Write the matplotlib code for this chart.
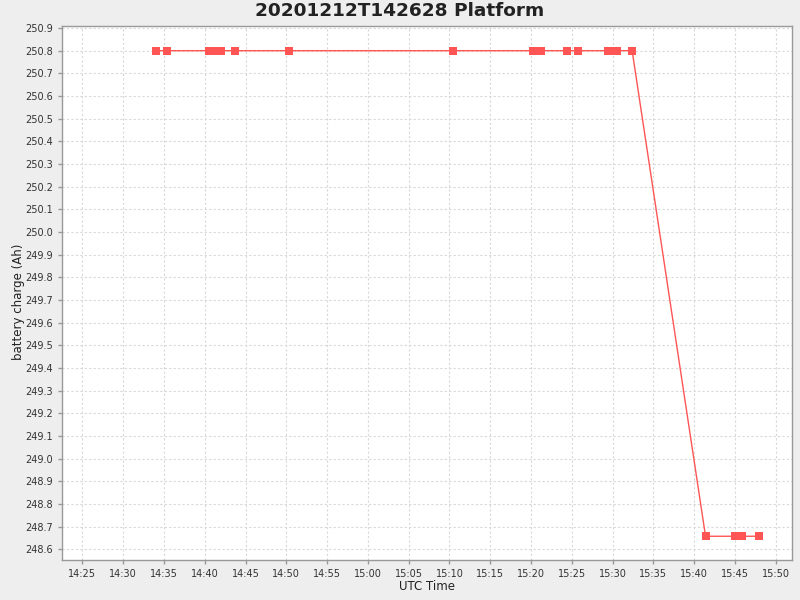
"""Battery charge vs UTC time for the platform run."""
from datetime import datetime

import matplotlib

matplotlib.use("Agg")
import matplotlib.dates as mdates
import matplotlib.pyplot as plt
from matplotlib.ticker import MultipleLocator, FormatStrFormatter

# sample times (HH:MM:SS, UTC) and battery charge (Ah)
times = [
    "14:34:04", "14:35:25", "14:40:32", "14:41:04", "14:42:02", "14:43:46",
    "14:50:23", "15:10:29", "15:20:18", "15:21:17", "15:24:28", "15:25:48",
    "15:29:24", "15:30:00", "15:30:36", "15:32:24", "15:41:24", "15:45:00",
    "15:45:28", "15:45:54", "15:47:54",
]
charge = [
    250.8, 250.8, 250.8, 250.8, 250.8, 250.8,
    250.8, 250.8, 250.8, 250.8, 250.8, 250.8,
    250.8, 250.8, 250.8, 250.8, 248.657, 248.657,
    248.657, 248.657, 248.657,
]
day = "2020-12-12"
title = "20201212T142628 Platform"

xs = [datetime.fromisoformat(f"{day}T{t}") for t in times]

fig = plt.figure(figsize=(8, 6), dpi=100, facecolor="#eeeeee")
ax = fig.add_axes([0.0775, 0.0662, 0.9125, 0.8905])
ax.set_facecolor("white")

ax.plot(xs, charge, color="#ff5555", lw=1, marker="s", markersize=5.3,
        markeredgewidth=0)

ax.set_xlim(datetime.fromisoformat(f"{day}T14:22:30"),
            datetime.fromisoformat(f"{day}T15:52:00"))
ax.set_ylim(248.551, 250.909)

ax.xaxis.set_major_locator(mdates.MinuteLocator(byminute=range(0, 60, 5)))
ax.xaxis.set_major_formatter(mdates.DateFormatter("%H:%M"))
ax.yaxis.set_major_locator(MultipleLocator(0.1))
ax.yaxis.set_major_formatter(FormatStrFormatter("%.1f"))

ax.grid(True, color="#d8d8d8", linestyle=(0, (2, 2)), lw=0.8)
ax.set_axisbelow(True)
for s in ax.spines.values():
    s.set_color("#999999")
    s.set_linewidth(1)
ax.tick_params(colors="#999999", labelcolor="#333333", labelsize=7,
               length=3, width=1)

fig.text(427 / 800, 1 - 586 / 600, "UTC Time", ha="center", va="center",
         fontsize=8.5, color="#222222")
fig.text(19 / 800, 1 - 302 / 600, "battery charge (Ah)", ha="center",
         va="center", rotation=90, fontsize=8.5, color="#222222")
fig.text(0.5, 1 - 11.5 / 600, title, ha="center", va="center", fontsize=13.3,
         fontweight="bold", color="#222222")

fig.savefig("out.png", dpi=100, facecolor=fig.get_facecolor())
plt.close(fig)
